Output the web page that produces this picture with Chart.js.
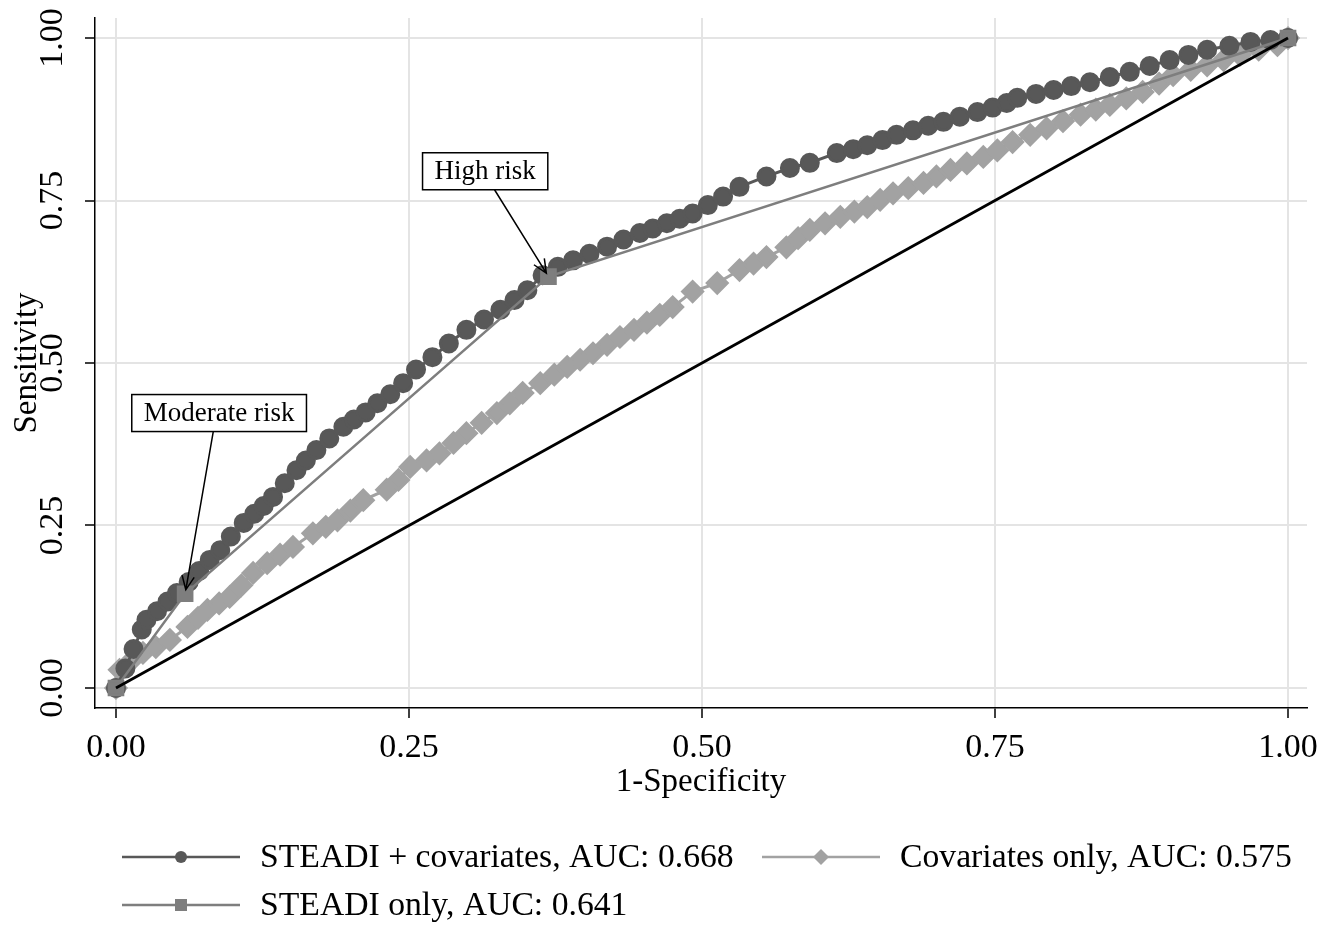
<!DOCTYPE html>
<html>
<head>
<meta charset="utf-8">
<script src="https://cdn.jsdelivr.net/npm/chart.js@4"></script>
<style>
  html, body { margin: 0; padding: 0; background: #fff; }
  #wrap { width: 1338px; height: 929px; position: relative; }
</style>
</head>
<body>
<div id="wrap"><canvas id="roc"></canvas></div>
<script>
// ROC points: x = 1-specificity, y = sensitivity
var fullX = [0, 0.008, 0.015, 0.022, 0.026, 0.035, 0.044, 0.052, 0.062, 0.071, 0.080, 0.089, 0.098, 0.109, 0.118,
  0.126, 0.134, 0.144, 0.154, 0.162, 0.171, 0.182, 0.194, 0.203, 0.213, 0.223, 0.234, 0.245, 0.256, 0.270,
  0.284, 0.299, 0.314, 0.328, 0.340, 0.351, 0.364, 0.377, 0.390, 0.404, 0.419, 0.433, 0.447, 0.458, 0.470,
  0.481, 0.492, 0.505, 0.518, 0.532, 0.555, 0.575, 0.592, 0.615, 0.629, 0.641, 0.654, 0.666, 0.680, 0.693,
  0.706, 0.720, 0.735, 0.748, 0.760, 0.769, 0.785, 0.800, 0.815, 0.831, 0.848, 0.865, 0.882, 0.899, 0.915,
  0.931, 0.950, 0.968, 0.985, 1];
var fullY = [0, 0.030, 0.060, 0.090, 0.105, 0.118, 0.133, 0.146, 0.163, 0.180, 0.197, 0.212, 0.233, 0.254, 0.268,
  0.280, 0.294, 0.315, 0.335, 0.350, 0.366, 0.384, 0.402, 0.413, 0.424, 0.438, 0.452, 0.469, 0.490, 0.509,
  0.530, 0.551, 0.567, 0.582, 0.597, 0.612, 0.635, 0.648, 0.658, 0.668, 0.679, 0.690, 0.700, 0.707, 0.715,
  0.722, 0.730, 0.743, 0.756, 0.771, 0.787, 0.800, 0.808, 0.823, 0.829, 0.835, 0.843, 0.851, 0.858, 0.865,
  0.871, 0.879, 0.886, 0.893, 0.900, 0.908, 0.914, 0.920, 0.926, 0.932, 0.940, 0.948, 0.957, 0.966, 0.974,
  0.982, 0.988, 0.994, 0.997, 1];

var covX = [0, 0.003, 0.012, 0.023, 0.034, 0.046, 0.061, 0.070, 0.078, 0.088, 0.097, 0.107, 0.117, 0.129, 0.140,
  0.151, 0.168, 0.179, 0.189, 0.200, 0.211, 0.231, 0.241, 0.251, 0.265, 0.276, 0.288, 0.299, 0.312, 0.325,
  0.336, 0.347, 0.362, 0.374, 0.385, 0.396, 0.407, 0.419, 0.430, 0.442, 0.453, 0.464, 0.475, 0.492, 0.513,
  0.532, 0.544, 0.555, 0.572, 0.582, 0.592, 0.605, 0.618, 0.630, 0.641, 0.652, 0.663, 0.676, 0.689, 0.700,
  0.712, 0.726, 0.740, 0.752, 0.765, 0.780, 0.794, 0.808, 0.823, 0.836, 0.848, 0.862, 0.876, 0.890, 0.902,
  0.917, 0.931, 0.945, 0.959, 0.975, 0.991, 1];
var covY = [0, 0.028, 0.040, 0.054, 0.063, 0.074, 0.094, 0.108, 0.120, 0.130, 0.140, 0.158, 0.177, 0.192, 0.205,
  0.217, 0.238, 0.248, 0.258, 0.273, 0.289, 0.305, 0.320, 0.340, 0.350, 0.361, 0.377, 0.392, 0.408, 0.423,
  0.438, 0.454, 0.469, 0.482, 0.494, 0.505, 0.515, 0.528, 0.540, 0.551, 0.562, 0.574, 0.586, 0.610, 0.623,
  0.643, 0.653, 0.663, 0.678, 0.692, 0.705, 0.715, 0.725, 0.733, 0.740, 0.751, 0.761, 0.769, 0.777, 0.787,
  0.797, 0.807, 0.817, 0.827, 0.840, 0.851, 0.861, 0.872, 0.882, 0.890, 0.897, 0.907, 0.917, 0.930, 0.943,
  0.951, 0.958, 0.966, 0.974, 0.982, 0.989, 1];

var steadiX = [0, 0.059, 0.369, 1];
var steadiY = [0, 0.145, 0.633, 1];

var refX = [0, 1];
var refY = [0, 1];

var tickVals = [0, 0.25, 0.5, 0.75, 1];
var seriesNames = ['STEADI + covariates, AUC: 0.668', 'Covariates only, AUC: 0.575', 'STEADI only, AUC: 0.641'];
var noteText = ['Moderate risk', 'High risk'];
var notePoint = [1, 2]; // which STEADI-only point each note points at

var SERIF = '"Liberation Serif", "Times New Roman", serif';
var DARK = '#585858', LIGHT = '#a2a2a2', MID = '#7e7e7e';

function pts(xs, ys) {
  return xs.map(function (x, i) { return { x: x, y: ys[i] }; });
}

function marker(ctx, style, x, y, r, color) {
  ctx.save();
  ctx.fillStyle = color;
  ctx.beginPath();
  if (style === 'circle') {
    ctx.arc(x, y, r, 0, Math.PI * 2);
  } else if (style === 'rectRot') {
    ctx.moveTo(x, y - r); ctx.lineTo(x + r, y); ctx.lineTo(x, y + r); ctx.lineTo(x - r, y);
    ctx.closePath();
  } else {
    ctx.rect(x - r, y - r, 2 * r, 2 * r);
  }
  ctx.fill();
  ctx.restore();
}

// boxed labels with arrows
var notesPlugin = {
  id: 'notes',
  afterDatasetsDraw: function (chart) {
    var ctx = chart.ctx, xs = chart.scales.x, ys = chart.scales.y;
    // box centre and arrow start, in data units
    var place = [
      { cx: 0.088, cy: 0.423, sx: 0.083 },
      { cx: 0.315, cy: 0.795, sx: 0.323 }
    ];
    ctx.save();
    ctx.font = '27px ' + SERIF;
    noteText.forEach(function (txt, i) {
      var p = place[i];
      var bx = xs.getPixelForValue(p.cx), by = ys.getPixelForValue(p.cy);
      var w = ctx.measureText(txt).width + 24, h = 37;
      ctx.fillStyle = '#fff';
      ctx.fillRect(bx - w / 2, by - h / 2, w, h);
      ctx.strokeStyle = '#000';
      ctx.lineWidth = 1.5;
      ctx.strokeRect(bx - w / 2, by - h / 2, w, h);
      ctx.fillStyle = '#000';
      ctx.textAlign = 'center';
      ctx.textBaseline = 'middle';
      ctx.fillText(txt, bx, by + 1);

      var k = notePoint[i];
      var x0 = xs.getPixelForValue(p.sx), y0 = by + h / 2;
      var tx = xs.getPixelForValue(steadiX[k]), ty = ys.getPixelForValue(steadiY[k]);
      var a = Math.atan2(ty - y0, tx - x0);
      var x1 = tx - Math.cos(a) * 4, y1 = ty - Math.sin(a) * 4;
      ctx.beginPath();
      ctx.moveTo(x0, y0);
      ctx.lineTo(x1, y1);
      ctx.moveTo(x1 - Math.cos(a - 0.42) * 15, y1 - Math.sin(a - 0.42) * 15);
      ctx.lineTo(x1, y1);
      ctx.lineTo(x1 - Math.cos(a + 0.42) * 15, y1 - Math.sin(a + 0.42) * 15);
      ctx.lineWidth = 1.5;
      ctx.stroke();
    });
    ctx.restore();
  }
};

// legend below the plot: line sample with marker, then the name
var legendPlugin = {
  id: 'bottomLegend',
  afterDraw: function (chart) {
    var ctx = chart.ctx;
    var items = [
      { x: 122, y: 857, color: DARK, style: 'circle', r: 6 },
      { x: 762, y: 857, color: LIGHT, style: 'rectRot', r: 8 },
      { x: 122, y: 905, color: MID, style: 'rect', r: 6 }
    ];
    ctx.save();
    ctx.font = '33.7px ' + SERIF;
    ctx.textBaseline = 'middle';
    ctx.textAlign = 'left';
    items.forEach(function (it, i) {
      ctx.beginPath();
      ctx.moveTo(it.x, it.y);
      ctx.lineTo(it.x + 118, it.y);
      ctx.strokeStyle = it.color;
      ctx.lineWidth = 2.5;
      ctx.stroke();
      marker(ctx, it.style, it.x + 59, it.y, it.r, it.color);
      ctx.fillStyle = '#000';
      ctx.fillText(seriesNames[i], it.x + 138, it.y + 1);
    });
    ctx.restore();
  }
};

var tickFont = { family: SERIF, size: 34 };
var titleFont = { family: SERIF, size: 33 };

new Chart(document.getElementById('roc'), {
  type: 'scatter',
  data: {
    datasets: [{
      label: 'Reference',
      data: pts(refX, refY),
      showLine: true,
      borderColor: '#000',
      borderWidth: 2.8,
      pointRadius: 0,
      order: 0
    }, {
      label: seriesNames[2],
      data: pts(steadiX, steadiY),
      showLine: true,
      borderColor: MID,
      borderWidth: 2.5,
      pointStyle: 'rect',
      pointRadius: 10,
      pointBackgroundColor: MID,
      pointBorderColor: MID,
      order: 1
    }, {
      label: seriesNames[0],
      data: pts(fullX, fullY),
      showLine: true,
      borderColor: DARK,
      borderWidth: 3,
      pointStyle: 'circle',
      pointRadius: 8.5,
      pointBackgroundColor: DARK,
      pointBorderColor: DARK,
      order: 2
    }, {
      label: seriesNames[1],
      data: pts(covX, covY),
      showLine: true,
      borderColor: LIGHT,
      borderWidth: 3,
      pointStyle: 'rectRot',
      pointRadius: 10,
      pointBackgroundColor: LIGHT,
      pointBorderColor: LIGHT,
      order: 3
    }]
  },
  options: {
    responsive: true,
    maintainAspectRatio: false,
    animation: false,
    layout: { padding: { left: 0, top: 18, right: 31, bottom: 121 } },
    plugins: { legend: { display: false }, tooltip: { enabled: false } },
    scales: {
      x: {
        type: 'linear',
        min: -0.0179,
        max: 1.0162,
        afterBuildTicks: function (s) { s.ticks = tickVals.map(function (v) { return { value: v }; }); },
        afterFit: function (s) { s.height = 100; s.paddingLeft = 0; s.paddingRight = 0; },
        grid: { color: '#e4e4e4', lineWidth: 2, tickColor: '#000', tickLength: 10, tickWidth: 1.5 },
        border: { display: true, color: '#000', width: 1.5 },
        ticks: {
          font: tickFont, color: '#000', padding: 10, maxRotation: 0, autoSkip: false,
          callback: function (v) { return v.toFixed(2); }
        },
        title: { display: true, text: '1-Specificity', font: titleFont, color: '#000', padding: { top: 0, bottom: 6 } }
      },
      y: {
        type: 'linear',
        min: -0.0308,
        max: 1.0308,
        afterBuildTicks: function (s) { s.ticks = tickVals.map(function (v) { return { value: v }; }); },
        afterFit: function (s) { s.width = 95; s.paddingTop = 0; s.paddingBottom = 0; },
        grid: { color: '#e4e4e4', lineWidth: 2, tickColor: '#000', tickLength: 10, tickWidth: 1.5 },
        border: { display: true, color: '#000', width: 1.5 },
        ticks: {
          font: tickFont, color: '#000', padding: 2, minRotation: 90, maxRotation: 90,
          crossAlign: 'center', autoSkip: false,
          callback: function (v) { return v.toFixed(2); }
        },
        title: { display: true, text: 'Sensitivity', font: titleFont, color: '#000', padding: { top: 8, bottom: 0 } }
      }
    }
  },
  plugins: [notesPlugin, legendPlugin]
});
</script>
</body>
</html>
